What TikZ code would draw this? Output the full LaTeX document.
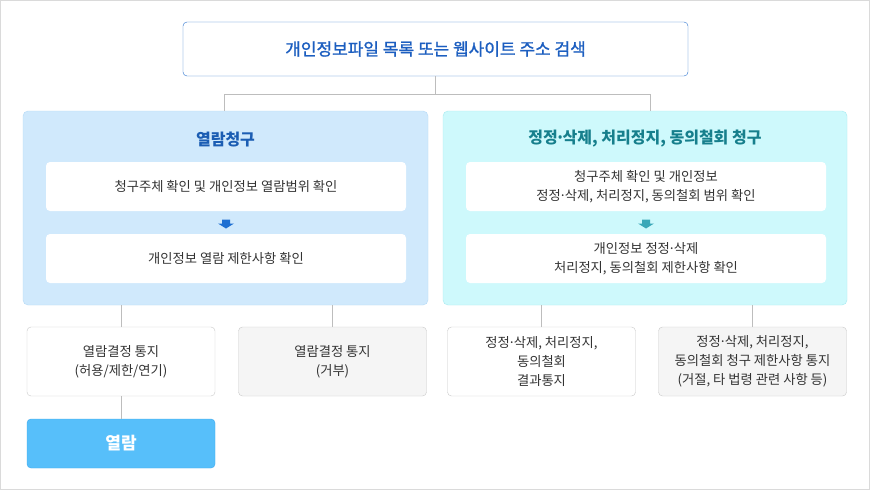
\documentclass[tikz,border=0pt]{standalone}
\usepackage{fontspec}
\newfontfamily\krfont{Noto Sans CJK KR}
\newfontfamily\krmid{Noto Sans CJK KR}[FakeBold=1.2]
\usetikzlibrary{calc}
\newcommand\dotsep{\makebox[0.3em]{·}}
\definecolor{framegray}{HTML}{DADADA}
\definecolor{linegray}{HTML}{BDBDBD}
\definecolor{boxgray}{HTML}{C9C9C9}
\definecolor{notefill}{HTML}{F5F5F5}
\definecolor{bodytext}{HTML}{333333}
\definecolor{searchblue}{HTML}{2A72CF}
\definecolor{searchtext}{HTML}{1C5EC0}
\definecolor{viewfill}{HTML}{D0E9FC}
\definecolor{viewedge}{HTML}{B5DAF6}
\definecolor{viewtitle}{HTML}{1B5DB3}
\definecolor{viewarrow}{HTML}{1E6FD2}
\definecolor{fixfill}{HTML}{CEF9FC}
\definecolor{fixedge}{HTML}{A9EBF1}
\definecolor{fixtitle}{HTML}{167F8C}
\definecolor{fixarrow}{HTML}{3AA8B8}
\definecolor{openfill}{HTML}{57BFFA}
\definecolor{openedge}{HTML}{3CA8EE}
\tikzset{
  line/.style={draw=linegray, line width=1pt},
  box/.style={rounded corners=4pt, align=center, inner sep=0pt, text=bodytext,
    font=\krfont\fontsize{13.3}{19}\selectfont},
  searchbox/.style={box, draw=searchblue, fill=white, text=searchtext,
    minimum width=505pt, minimum height=54pt, font=\krmid\fontsize{17}{19}\selectfont},
  group/.style={rounded corners=5pt, minimum width=405pt, minimum height=194pt},
  grouptitle/.style={inner sep=0pt, font=\krfont\bfseries\fontsize{16}{19}\selectfont},
  stepbox/.style={box, fill=white, minimum width=360pt, minimum height=49pt},
  notebox/.style={box, draw=boxgray, fill=white, minimum width=188pt, minimum height=69pt},
  refusebox/.style={notebox, fill=notefill},
  openbox/.style={box, draw=openedge, fill=openfill, text=white,
    minimum width=188pt, minimum height=49pt, font=\krfont\bfseries\fontsize{17}{19}\selectfont}
}
\begin{document}
\begin{tikzpicture}[x=1pt,y=-1pt]
\useasboundingbox (0,0) rectangle (870,490);
\fill[white] (0,0) rectangle (870,490);
\draw[framegray, line width=1pt] (0.5,0.5) rectangle (869.5,489.5);

% search
\node[searchbox] (search) at (435.5,49) {개인정보파일 목록 또는 웹사이트 주소 검색};

% two requests
\node[group, draw=viewedge, fill=viewfill] (view) at (225.5,208) {};
\node[group, draw=fixedge, fill=fixfill, minimum width=404pt] (fix) at (645,208) {};
\node[grouptitle, text=viewtitle] (viewhead) at (225.5,139) {열람청구};
\node[grouptitle, text=fixtitle] (fixhead) at (645,139) {정정\dotsep 삭제, 처리정지, 동의철회 청구};
\node[stepbox] (view1) at (226,186.5) {청구주체 확인 및 개인정보 열람범위 확인};
\node[stepbox] (view2) at (226,258.5) {개인정보 열람 제한사항 확인};
\node[stepbox] (fix1) at (646,186.5) {청구주체 확인 및 개인정보\\정정\dotsep 삭제, 처리정지, 동의철회 범위 확인};
\node[stepbox] (fix2) at (646,258.5) {개인정보 정정\dotsep 삭제\\처리정지, 동의철회 제한사항 확인};
\foreach \a/\b/\c in {view1/view2/viewarrow, fix1/fix2/fixarrow} {
\fill[\c] ($(\a.south)!0.5!(\b.north)$) ++(-4,-3) -- ++(8,0) -- ++(0,4) -- ++(4,0)
  -- ++(-8,5) -- ++(-8,-5) -- ++(4,0) -- cycle;
}

% results
\node[notebox] (noteA) at (121,361.5) {열람결정 통지\\(허용/제한/연기)};
\node[refusebox] (noteB) at (332.5,361.5) {열람결정 통지\\(거부)};
\node[notebox] (noteC) at (541.5,361.5) {정정\dotsep 삭제, 처리정지,\\동의철회\\결과통지};
\node[refusebox] (noteD) at (752.5,361.5) {정정\dotsep 삭제, 처리정지,\\동의철회 청구 제한사항 통지\\(거절, 타 법령 관련 사항 등)};
\node[openbox] (open) at (121,443.5) {열람};

% connectors
\coordinate (forkL) at (224,94);
\coordinate (forkR) at (650,94);
\draw[line] (search.south) -- (search.south |- forkL);
\draw[line] (forkL |- view.north) -- (forkL) -- (forkR) -- (forkR |- fix.north);
\foreach \n/\p in {noteA/view, noteB/view, noteC/fix, noteD/fix} {
\draw[line] (\n.north) -- (\n.north |- \p.south);
}
\draw[line] (noteA.south) -- (open.north);
\end{tikzpicture}
\end{document}
